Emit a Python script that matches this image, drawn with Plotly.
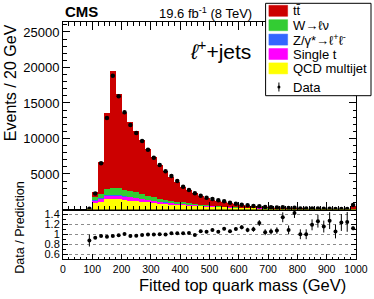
import plotly.graph_objects as go

# ---------------- data ----------------
bin_centers = [90, 110, 130, 150, 170, 190, 210, 230, 250, 270, 290, 310, 330, 350, 370, 390,
               410, 430, 450, 470, 490, 510, 530, 550, 570, 590, 610, 630, 650, 670, 690, 710,
               730, 750, 770, 790, 810, 830, 850, 870, 890, 910, 930, 950, 970, 990]

qcd = [40, 900, 1050, 1430, 1520, 1450, 1340, 1250, 1200, 1100, 1000, 920, 820, 730, 680, 630,
       590, 540, 500, 460, 420, 380, 340, 300, 265, 230, 200, 175, 150, 130, 115, 100,
       88, 77, 67, 58, 50, 44, 38, 33, 29, 25, 22, 19, 17, 40]
single_t = [15, 350, 450, 470, 430, 470, 440, 450, 400, 380, 340, 280, 240, 230, 190, 150,
            130, 110, 90, 70, 60, 50, 45, 40, 35, 32, 28, 25, 22, 20, 17, 16,
            14, 13, 11, 10, 9, 8, 7, 6, 5, 5, 4, 4, 3, 8]
z_ll = [5, 50, 60, 100, 80, 80, 70, 60, 60, 50, 50, 50, 40, 40, 30, 30,
        30, 25, 20, 20, 15, 15, 13, 10, 10, 8, 7, 6, 5, 5, 4, 4,
        3, 2, 2, 2, 2, 1, 1, 1, 1, 1, 1, 1, 1, 2]
w_lnu = [25, 450, 590, 900, 1040, 1030, 900, 890, 800, 650, 560, 460, 430, 380, 340, 290,
         250, 205, 170, 140, 115, 95, 82, 70, 60, 50, 45, 39, 33, 25, 24, 20,
         18, 16, 14, 12, 11, 10, 9, 8, 7, 6, 6, 5, 5, 30]
ttbar = [40, 670, 4580, 10650, 16430, 13220, 10850, 9670, 8640, 7610, 6530, 5640, 4740, 4040, 3380, 2820,
         2150, 1800, 1530, 1150, 970, 820, 755, 616, 535, 420, 320, 298, 235, 187, 176, 154,
         132, 117, 101, 88, 78, 69, 61, 54, 48, 43, 38, 34, 30, 480]

data = [109, 2250, 6500, 12870, 18840, 15930, 13680, 11900, 10770, 9650, 8420, 7300, 6270, 5380, 4710, 4000,
        3210, 2750, 2280, 1950, 1660, 1480, 1300, 1150, 960, 820, 684, 590, 490, 450, 350, 310,
        274, 302, 212, 243, 150, 132, 138, 129, 104, 102, 75, 78, 70, 627]
ratio_err = [0.12, 0.02, 0.012, 0.01, 0.008, 0.008, 0.01, 0.01, 0.01, 0.01, 0.012, 0.013, 0.014, 0.015, 0.016, 0.018,
             0.02, 0.02, 0.022, 0.025, 0.025, 0.028, 0.03, 0.03, 0.033, 0.035, 0.04, 0.045, 0.05, 0.06, 0.06, 0.06,
             0.065, 0.1, 0.09, 0.1, 0.1, 0.1, 0.11, 0.13, 0.12, 0.17, 0.14, 0.17, 0.2, 0.04]

x_ticks = [0, 100, 200, 300, 400, 500, 600, 700, 800, 900, 1000]
y_ticks = [5000, 10000, 15000, 20000, 25000]
y_ticklabels = ["5000", "10000", "15000", "20000", "25000"]
ratio_ticks = [0.6, 0.8, 1.0, 1.2, 1.4]
ratio_ticklabels = ["0.6", "0.8", "1", "1.2", "1.4"]

# ---------------- derived ----------------
mc_total = [a + b + c + d + e for a, b, c, d, e in zip(qcd, single_t, z_ll, w_lnu, ttbar)]
ratio = [d / m for d, m in zip(data, mc_total)]
data_err = [r * m for r, m in zip(ratio_err, mc_total)]

FONT = "Liberation Sans, Arial, Helvetica, sans-serif"
W, H = 374, 299
# plot-area edges in page pixels
PL, PR, PT, PB = 63.3, 356.0, 22.0, 259.0
SPLIT = 209.5


def px_x(p):
    return (p - PL) / (PR - PL)


def px_y(p):
    return (PB - p) / (PB - PT)


split_dom = px_y(SPLIT)

fig = go.Figure()

components = [
    ("QCD multijet", qcd, "#ffff00"),
    ("Single t", single_t, "#ff00ff"),
    ("Z/γ*→ℓℓ", z_ll, "#3366ff"),
    ("W→ℓν", w_lnu, "#33cc33"),
    ("tt̄", ttbar, "#cc0000"),
]
for name, vals, col in components:
    fig.add_trace(go.Bar(x=bin_centers, y=vals, width=20, name=name,
                         marker=dict(color=col, line=dict(width=0)),
                         xaxis="x2", yaxis="y2", showlegend=False))

fig.add_trace(go.Scatter(x=bin_centers, y=data, mode="markers", name="Data",
                         marker=dict(color="black", size=4.5),
                         error_y=dict(type="data", array=data_err, color="black",
                                      thickness=1, width=0),
                         xaxis="x2", yaxis="y2", showlegend=False))

fig.add_trace(go.Scatter(x=bin_centers, y=ratio, mode="markers", name="ratio",
                         marker=dict(color="black", size=4),
                         error_y=dict(type="data", array=ratio_err, color="black",
                                      thickness=1, width=0),
                         xaxis="x", yaxis="y", showlegend=False))

axis_common = dict(showline=True, linecolor="black", linewidth=1, ticks="inside",
                   tickcolor="black", tickwidth=1, zeroline=False)

fig.update_layout(
    width=W, height=H, autosize=False,
    margin=dict(l=PL, r=W - PR, t=PT, b=H - PB, pad=0, autoexpand=False),
    paper_bgcolor="white", plot_bgcolor="white",
    barmode="stack", bargap=0,
    font=dict(family=FONT, color="black"),
    showlegend=False,
    xaxis=dict(domain=[0, 1], anchor="y", range=[0, 1000], tickvals=x_ticks,
               ticklen=5, mirror=True, showgrid=False,
               tickfont=dict(size=10.5, family=FONT),
               minor=dict(dtick=20, ticklen=2.5, ticks="inside", tickcolor="black", showgrid=False),
               **axis_common),
    yaxis=dict(domain=[0, split_dom], anchor="x", range=[0.5, 1.5], tickvals=ratio_ticks,
               ticktext=ratio_ticklabels, ticklen=5, mirror="ticks",
               showgrid=True, gridcolor="#8c8c8c", griddash="dot", gridwidth=1,
               tickfont=dict(size=11, family=FONT),
               minor=dict(dtick=0.1, ticklen=2.5, ticks="inside", tickcolor="black", showgrid=False),
               **axis_common),
    xaxis2=dict(domain=[0, 1], anchor="y2", range=[0, 1000], matches="x",
                tickvals=x_ticks, showticklabels=False, ticklen=8, mirror="ticks", showgrid=False,
                minor=dict(dtick=20, ticklen=4, ticks="inside", tickcolor="black", showgrid=False),
                **axis_common),
    yaxis2=dict(domain=[split_dom, 1], anchor="x2", range=[0, 26400], tickvals=y_ticks,
                ticktext=y_ticklabels, ticklen=7, mirror="ticks", showgrid=False,
                tickfont=dict(size=13, family=FONT),
                minor=dict(dtick=1000, ticklen=3.5, ticks="inside", tickcolor="black", showgrid=False),
                **axis_common),
)

ann = []
ann.append(dict(text="<b>CMS</b>", x=px_x(63), y=px_y(11.5), xanchor="left", yanchor="middle",
                font=dict(size=15, family=FONT)))
ann.append(dict(text="19.6 fb<sup>-1</sup> (8 TeV)", x=px_x(254), y=px_y(13), xanchor="right",
                yanchor="middle", font=dict(size=13, family=FONT)))
ann.append(dict(text="<i>ℓ</i><sup>+</sup>+jets", x=px_x(188), y=px_y(50), xanchor="left",
                yanchor="middle", font=dict(size=21, family=FONT)))
ann.append(dict(text="Events / 20 GeV", x=px_x(11), y=px_y(82.5), xanchor="center",
                yanchor="middle", textangle=-90, font=dict(size=16, family=FONT)))
ann.append(dict(text="Data / Prediction", x=px_x(20), y=px_y(228), xanchor="center",
                yanchor="middle", textangle=-90, font=dict(size=12.5, family=FONT)))
ann.append(dict(text="Fitted top quark mass (GeV)", x=px_x(348), y=px_y(285), xanchor="right",
                yanchor="middle", font=dict(size=16.5, family=FONT)))

shapes = []
# legend box
shapes.append(dict(type="rect", xref="paper", yref="paper", x0=px_x(265.7), x1=px_x(371),
                   y0=px_y(95.7), y1=px_y(3.3), fillcolor="white",
                   line=dict(color="black", width=1), layer="above"))
legend_rows = [
    ("tt̄", "#cc0000", 10.8),
    ("W→ℓν", "#33cc33", 25.2),
    ("Z/γ*→ℓ<sup>+</sup>ℓ<sup>-</sup>", "#3366ff", 39.6),
    ("Single t", "#ff00ff", 54.0),
    ("QCD multijet", "#ffff00", 68.4),
]
for label, col, yc in legend_rows:
    shapes.append(dict(type="rect", xref="paper", yref="paper", x0=px_x(269), x1=px_x(287.7),
                       y0=px_y(yc + 5.5), y1=px_y(yc - 5.5), fillcolor=col,
                       line=dict(color=col, width=0.5), layer="above"))
    ann.append(dict(text=label, x=px_x(291), y=px_y(yc), xanchor="left", yanchor="middle",
                    font=dict(size=13, family=FONT)))
# Data legend entry
yd = 87.0
shapes.append(dict(type="line", xref="paper", yref="paper", x0=px_x(279), x1=px_x(279),
                   y0=px_y(yd + 4.5), y1=px_y(yd - 4.5), line=dict(color="black", width=1),
                   layer="above"))
shapes.append(dict(type="circle", xref="paper", yref="paper", x0=px_x(277.5), x1=px_x(280.5),
                   y0=px_y(yd + 1.5), y1=px_y(yd - 1.5), fillcolor="black",
                   line=dict(color="black", width=0), layer="above"))
ann.append(dict(text="Data", x=px_x(291), y=px_y(yd), xanchor="left", yanchor="middle",
                font=dict(size=13, family=FONT)))

for a in ann:
    a.update(xref="paper", yref="paper", showarrow=False)
fig.update_layout(annotations=ann, shapes=shapes)

# the page's default 8px body margin would shift the fixed-size figure; remove it
fig.write_html("out.html", config={"displayModeBar": False, "staticPlot": True},
               post_script="document.body.style.margin='0px';")
